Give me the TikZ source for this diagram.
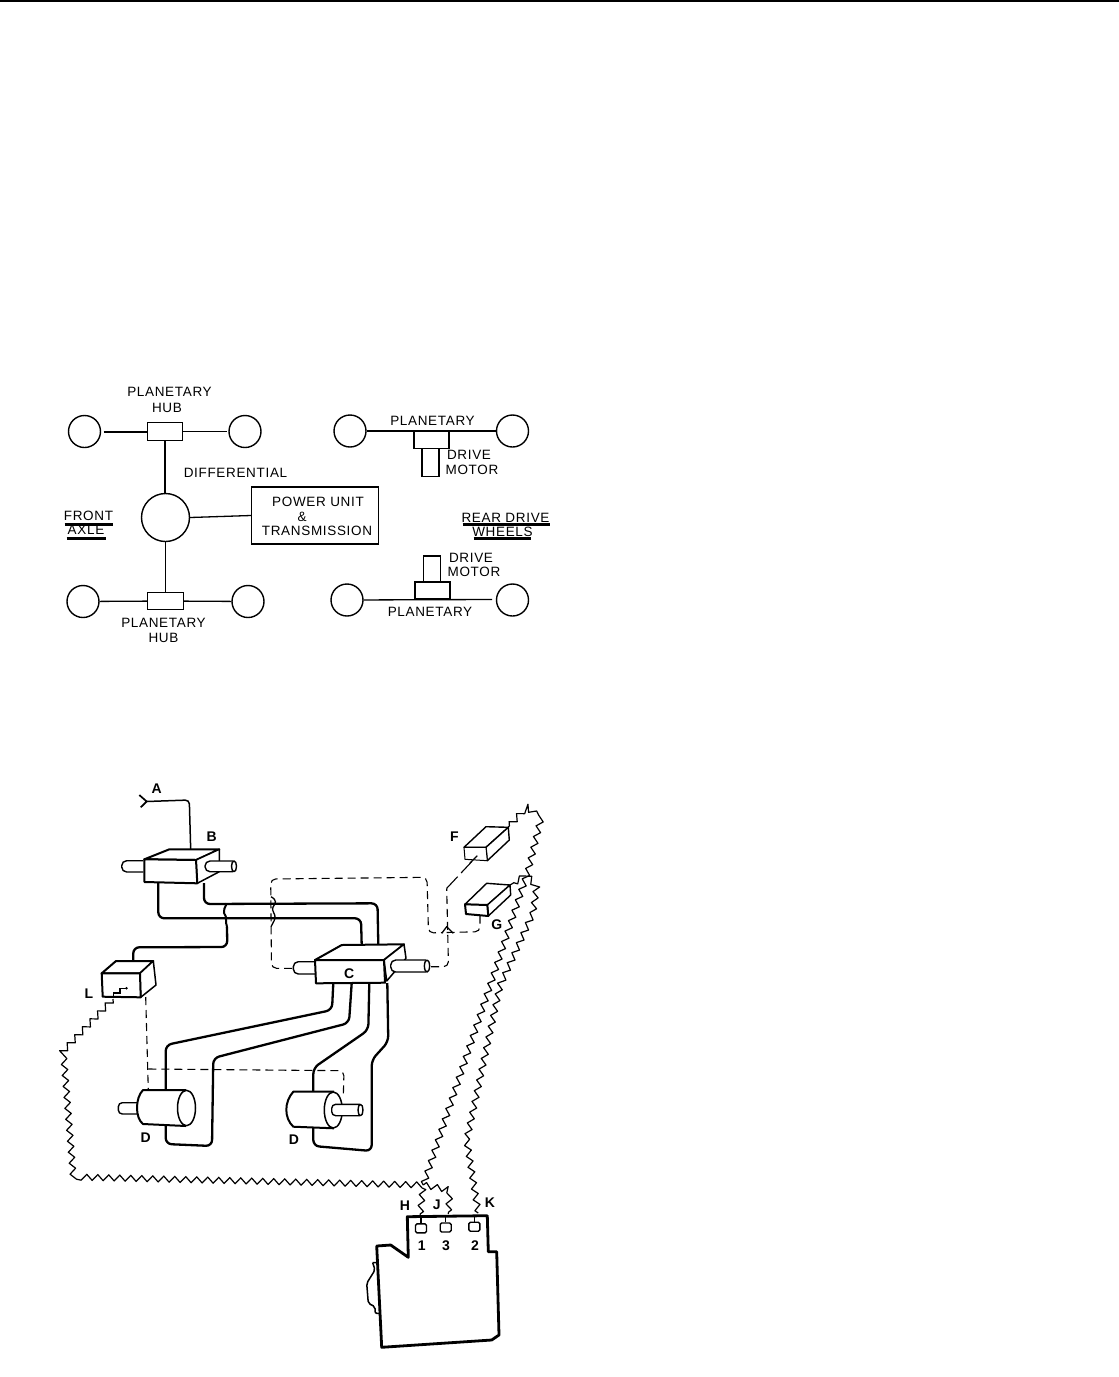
\documentclass[tikz,border=0pt]{standalone}
\usepackage{fontspec}
\setmainfont{Liberation Sans}
\newfontfamily\lab[LetterSpace=5]{Liberation Sans}
\usetikzlibrary{decorations.pathmorphing}
\tikzset{
  thinline/.style={line width=1.3pt,black},
  wheel/.style={circle,draw,line width=1.4pt,inner sep=0pt,minimum size=#1},
  wheel/.default=32pt,
  blk/.style={rectangle,draw,line width=1.4pt,inner sep=0pt,minimum width=#1},
  txt/.style={inner sep=0pt,font=\lab\fontsize{13.5}{15}\selectfont},
  tagtxt/.style={inner sep=0pt,font=\bfseries\fontsize{14}{15}\selectfont},
  pipe/.style={line width=2.3pt,rounded corners=6pt,line join=round},
  underl/.style={line width=2.4pt},
  dashline/.style={line width=1.1pt,dash pattern=on 8pt off 5pt,rounded corners=5pt},
  wire/.style={line width=1.2pt,line join=round,decorate,decoration={zigzag,segment length=11pt,amplitude=3pt}},
  face/.style={fill=white,line width=1.4pt,line join=round},
  heavy/.style={fill=white,line width=2pt,line join=round},
  termbox/.style={rectangle,draw,rounded corners=1.5pt,line width=1.4pt,minimum width=11pt,minimum height=9pt,inner sep=0pt},
}
\begin{document}
\begin{tikzpicture}[x=1pt,y=-1pt]
\useasboundingbox (0,0) rectangle (1119,1377);
\coordinate (pageL) at (0,1); \coordinate (pageR) at (1119,1);
\draw[line width=1.6pt] (pageL) -- (pageR);

% ---------- upper schematic ----------
\node[wheel] (fl1) at (84.5,431.5) {};
\node[wheel] (fr1) at (245,431.5) {};
\node[blk=34.5pt,minimum height=18pt] (hub1) at (165,431.5) {};
\node[wheel=48pt] (diff) at (165.5,517.5) {};
\node[wheel] (fl2) at (83,601.5) {};
\node[wheel] (fr2) at (248,601.5) {};
\node[blk=36pt,minimum height=17pt] (hub2) at (165.5,601) {};
\node[blk=127pt,minimum height=57pt] (pwr) at (315,515.5) {};
\coordinate (pwrL) at (pwr.west);
\coordinate (hub1s) at (165,440.5);
\coordinate (diffN) at (165,493.5);
\draw[line width=2pt,shorten <=2.5pt] (fl1) -- (hub1);
\draw[thinline,shorten >=1.5pt] (hub1) -- (fr1);
\draw[thinline] (hub1s) -- (diffN);
\draw[thinline] (diff) -- (hub2);
\draw[thinline] (diff.east) -- (pwrL);
\draw[thinline] (fl2) -- (hub2);
\draw[thinline] (hub2) -- (fr2);

\node[wheel] (rl1) at (350,431) {};
\node[wheel] (rr1) at (512.5,431) {};
\draw[line width=1.6pt] (rl1) -- (rr1);
\node[blk=35pt,minimum height=17pt,anchor=north] (pl1) at (431.5,431) {};
\node[blk=17pt,minimum height=28pt,anchor=north] (mot1) at (430.5,448) {};
\node[wheel] (rl2) at (347,600) {};
\node[wheel] (rr2) at (512.5,600) {};
\coordinate (rr2s) at (492,599.5);
\draw[thinline] (rl2) -- (rr2s);
\node[blk=35pt,minimum height=17pt,anchor=south] (pl2) at (432.5,599.5) {};
\node[blk=16.5pt,minimum height=26pt,anchor=south] (mot2) at (432,582.5) {};

\node[txt] (t1) at (169.5,391.5) {PLANETARY};
\node[txt] (t2) at (167,407.5) {HUB};
\node[txt] (t3) at (235.5,472.5) {DIFFERENTIAL};
\node[txt] (t4) at (318,502) {POWER UNIT};
\node[txt] (t5) at (302,516.5) {\&};
\node[txt] (t6) at (317,531) {TRANSMISSION};
\node[txt] (t7) at (163.5,622.5) {PLANETARY};
\node[txt] (t8) at (163.5,637.5) {HUB};
\node[txt] (t9) at (432.5,421) {PLANETARY};
\node[txt] (t10) at (469,455) {DRIVE};
\node[txt] (t11) at (472,470) {MOTOR};
\node[txt] (t12) at (471,557.5) {DRIVE};
\node[txt] (t13) at (474,571.5) {MOTOR};
\node[txt] (t14) at (430,611.5) {PLANETARY};
\node[txt] (t15) at (88.5,516) {FRONT};
\node[txt] (t16) at (86,530) {AXLE};
\node[txt] (t17) at (505.5,517.5) {REAR DRIVE};
\node[txt] (t18) at (502.5,532) {WHEELS};
\draw[underl] (64.5,524.3) -- (113,524.3);
\draw[underl] (66.5,538.3) -- (106,538.3);
\draw[underl] (462.5,524.3) -- (550,524.3);
\draw[underl] (473.5,538.3) -- (531,538.3);

% ---------- lower schematic: dashed lines ----------
\draw[dashline] (292,968.3) -- (271.5,968.3) -- (270.7,879) -- (427,877.3) -- (428.5,933) -- (443,932.5);
\draw[dashline] (431,966.7) -- (448.5,966.7) -- (446.7,888.3);
\draw[dashline,dash pattern=on 16pt off 5pt] (446.7,888.3) -- (477.3,855.7);
\draw[dashline] (446.7,932.5) -- (480,931.7) -- (480,916);
\draw[dashline] (145.7,997) -- (148.3,1090);
\draw[dashline] (148.3,1069) -- (344,1070.7) -- (343.3,1097);
\draw[thinline] (441.7,933.3) -- (446.7,926.7) -- (453.3,933.3);

% ---------- pipes ----------
\coordinate (Aend) at (146.7,801.5);
\draw[line width=1.7pt] (139.3,795) -- (Aend) -- (140.7,807.3);
\draw[line width=1.5pt,rounded corners=4pt] (Aend) -- (189.3,800) -- (190.7,850);
\draw[pipe] (158.3,883) -- (158.3,918.3) -- (361,918.3) -- (361.7,945);
\draw[pipe] (204,883) -- (204,904) -- (377.5,903.3) -- (378.3,945);
\draw[line width=2pt] (226.7,903.3) .. controls (225,908) and (223,910) .. (224,913) .. controls (225,916) and (227,917) .. (226,919.5) .. controls (225,922) and (227,924) .. (227,928);
\draw[pipe] (227,927) -- (227.3,947) -- (133.3,947.3) -- (133.3,962);
\draw[thinline] (271,896.7) .. controls (277,900) and (276,903) .. (273,907) .. controls (271,911) and (276,914) .. (275,918.3) .. controls (274,922) and (272,924) .. (271,926.7);
\draw[pipe] (333.3,983) -- (332,1010) -- (165.7,1045) -- (165.7,1144) -- (212,1146) -- (213.3,1058) -- (349,1023) -- (351.7,983);
\draw[pipe] (369.3,983) -- (368.3,1030) -- (313.3,1068) -- (313.3,1146) -- (371.7,1151) -- (371.7,1060) -- (388.3,1041.7) -- (387.3,983);

% ---------- zigzag wires ----------
\draw[wire] (113,999) -- (63.3,1051) -- (73.3,1177) -- (423.3,1185) -- (420,1216);
\draw[wire] (423.3,1185) -- (450,1190) -- (448.3,1214);
\draw[wire] (423.3,1185) -- (490,986) -- (528.3,870) -- (541,818.3) -- (526.7,807) -- (508.3,827);
\draw[wire] (478.3,1213) -- (466.7,1140) -- (500,986) -- (533,913) -- (536.7,886.7) -- (526.7,875) -- (510,885);

% ---------- valve B ----------
\draw[face,rounded corners=5pt] (143.3,860.7) -- (121.7,860.7) -- (121.7,872) -- (143.3,872);
\draw[heavy] (144.3,859.3) -- (169.3,849.3) -- (219.3,849.3) -- (196,860) -- cycle;
\draw[heavy,line width=1.5pt] (219.3,849.3) -- (219.3,871.7) -- (197.3,883.3) -- (196,860) -- cycle;
\draw[heavy] (144.3,859.3) -- (196,860) -- (197.3,883.3) -- (144.5,882) -- cycle;
\draw[face,rounded corners=5pt] (233,861) -- (205,861) -- (205,871.7) -- (233,871.7);
\draw[face] (234,866.3) ellipse (2.5pt and 5.4pt);

% ---------- valve C ----------
\draw[face,rounded corners=5pt] (315,961.7) -- (293.3,961.7) -- (293.3,974) -- (315,974);
\draw[heavy] (315,960) -- (341.7,945) -- (404,944.3) -- (384,960) -- cycle;
\draw[heavy,line width=1.5pt] (404,944.3) -- (406,958.3) -- (386.7,981) -- (384,960) -- cycle;
\draw[heavy] (315,960) -- (384,960) -- (385,982.7) -- (316,983.3) -- cycle;
\draw[face,rounded corners=5pt] (426,960) -- (390.7,960) -- (390.7,972) -- (426,972);
\draw[face] (427,966) ellipse (2.6pt and 6pt);

% ---------- box L ----------
\draw[heavy] (101.7,973.3) -- (116,961) -- (153.3,961) -- (140,973.3) -- cycle;
\draw[heavy,line width=1.5pt] (153.3,961) -- (156,985) -- (140.7,997.3) -- (140,973.3) -- cycle;
\draw[heavy] (101.7,973.3) -- (140,973.3) -- (140.7,997.3) -- (102.7,996.7) -- cycle;
\draw[line width=1.3pt] (113.3,998) -- (113.3,993) -- (120,993) -- (120,988.3) -- (125.5,988.3);
\fill (126.5,988.3) circle (1.4pt);

% ---------- boxes F, G ----------
\draw[face] (464,847.3) -- (486,826.7) -- (508.3,827.3) -- (486,847.3) -- cycle;
\draw[face] (508.3,827.3) -- (509.3,840) -- (487.3,860.7) -- (486,847.3) -- cycle;
\draw[face,line width=1pt] (464,847.3) -- (486,847.3) -- (487.3,860.7) -- (465,859.3) -- cycle;
\draw[face] (465,904.3) -- (486.7,883.3) -- (510,885) -- (487.3,905) -- cycle;
\draw[face] (510,885) -- (510.7,895) -- (488.3,916) -- (487.3,905) -- cycle;
\draw[heavy] (465,904.3) -- (487.3,905) -- (488.3,916) -- (466,914) -- cycle;
\draw[line width=1.1pt] (477.3,855.7) -- (470,863);

% ---------- cylinders D ----------
\draw[face,rounded corners=4pt] (137.3,1102.7) -- (118.3,1102.7) -- (118.3,1114) -- (137.3,1114);
\draw[heavy] (186,1090) -- (143,1090) .. controls (135,1098) and (135,1118) .. (143,1124) -- (186,1126);
\draw[face,line width=1.5pt] (186.5,1108) ellipse (9pt and 17.7pt);
\draw[heavy] (334,1091.7) -- (293.3,1091.7) .. controls (284,1102) and (284,1118) .. (293.3,1126.7) -- (334,1128.3);
\draw[face,line width=1.5pt] (333.3,1110) ellipse (9pt and 18pt);
\draw[face,rounded corners=4pt] (360,1104.3) -- (331.7,1104.3) -- (331.7,1115.7) -- (360,1115.7);
\draw[face] (360.5,1110) ellipse (2.5pt and 5.7pt);

% ---------- controller ----------
\draw[line width=2.8pt,line join=round,fill=white] (407.3,1216.7) -- (487.3,1215.7) -- (488.3,1251.7) -- (496.7,1251.7)
  -- (499,1335) -- (491.7,1340) -- (381.7,1347.3) -- (376.7,1246) -- (390.7,1245) -- (408.3,1257.3) -- cycle;
\draw[line width=1.5pt,rounded corners=2pt] (372.7,1262.7) -- (375,1270) -- (366.7,1283.3) -- (368.3,1303.3) -- (375,1306.7) -- (375,1313.3) -- (379,1313.5);
\draw[line width=1.5pt] (372.7,1262.7) -- (377.5,1262.5);
\node[termbox] (term1) at (421,1228.3) {};
\node[termbox] (term3) at (445.7,1227.5) {};
\node[termbox] (term2) at (474.3,1226.7) {};
\coordinate (top1) at (421,1216.5); \coordinate (top3) at (445.7,1216); \coordinate (top2) at (474.3,1216);
\draw[thinline] (term1) -- (top1);
\draw[thinline] (term3) -- (top3);
\draw[thinline] (term2) -- (top2);

% ---------- letters ----------
\node[tagtxt] (la) at (156.7,789) {A};
\node[tagtxt] (lb) at (211.7,836.7) {B};
\node[tagtxt] (lc) at (349.3,973.3) {C};
\node[tagtxt] (ld1) at (145.7,1137.3) {D};
\node[tagtxt] (ld2) at (294,1140) {D};
\node[tagtxt] (lf) at (454.3,836.7) {F};
\node[tagtxt] (lg) at (496.7,924.3) {G};
\node[tagtxt] (ll) at (89,994) {L};
\node[tagtxt] (lh) at (405,1205.7) {H};
\node[tagtxt] (lj) at (436.7,1205) {J};
\node[tagtxt] (lk) at (490,1202.7) {K};
\node[tagtxt] (n1) at (421.7,1245.3) {1};
\node[tagtxt] (n3) at (446,1245.3) {3};
\node[tagtxt] (n2) at (475,1245.3) {2};
\end{tikzpicture}
\end{document}
